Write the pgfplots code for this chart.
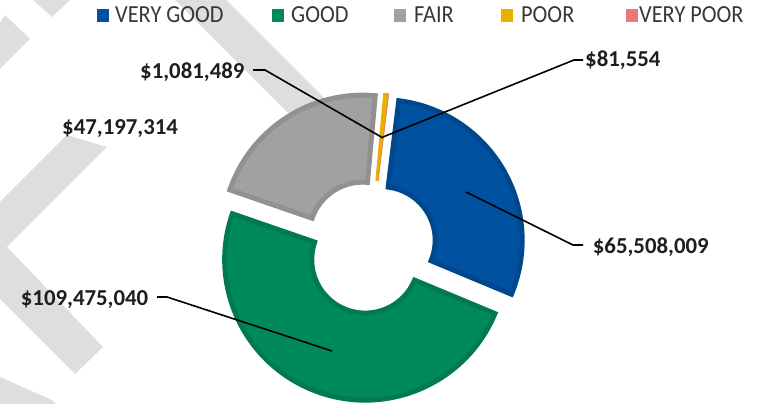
\documentclass[border=0pt]{standalone}
\usepackage{pgfplots}
\pgfplotsset{compat=1.18}
\usepackage{graphicx}
\usepackage{fontspec}
\setmainfont{Carlito}

\definecolor{cVG}{RGB}{0,82,160}
\definecolor{cVGd}{RGB}{0,72,142}
\definecolor{cG}{RGB}{0,138,90}
\definecolor{cGd}{RGB}{0,122,78}
\definecolor{cF}{RGB}{161,161,161}
\definecolor{cFd}{RGB}{145,145,145}
\definecolor{cP}{RGB}{232,176,0}
\definecolor{cVP}{RGB}{235,120,120}
\definecolor{stripe}{RGB}{222,222,222}
\definecolor{lab}{RGB}{30,30,30}
\definecolor{leg}{RGB}{55,55,55}

% values (millions of dollars)
\def\vVG{65.508009}
\def\vG{109.475040}
\def\vF{47.197314}
\def\vP{1.081489}
\def\vVP{0.081554}

\pgfmathsetmacro\tot{\vVG+\vG+\vF+\vP+\vVP}
\pgfmathsetmacro\aA{83}
\pgfmathsetmacro\aB{\aA-\vVG/\tot*360}
\pgfmathsetmacro\aC{\aB-\vG/\tot*360}
\pgfmathsetmacro\aD{\aC-\vF/\tot*360}
\pgfmathsetmacro\aE{\aD-\vP/\tot*360}
\pgfmathsetmacro\aF{\aE-\vVP/\tot*360}

\def\ex{13.5}
\pgfmathsetmacro\mA{(\aA+\aB)/2}\pgfmathsetmacro\xA{370+\ex*cos(\mA)}\pgfmathsetmacro\yA{157+\ex*sin(\mA)}
\pgfmathsetmacro\mB{(\aB+\aC)/2}\pgfmathsetmacro\xB{370+\ex*cos(\mB)}\pgfmathsetmacro\yB{157+\ex*sin(\mB)}
\pgfmathsetmacro\mC{(\aC+\aD)/2}\pgfmathsetmacro\xC{370+\ex*cos(\mC)}\pgfmathsetmacro\yC{157+\ex*sin(\mC)}
\pgfmathsetmacro\mD{(\aD+\aE)/2}\pgfmathsetmacro\xD{370+\ex*cos(\mD)}\pgfmathsetmacro\yD{157+\ex*sin(\mD)}
\pgfmathsetmacro\mE{(\aE+\aF)/2}\pgfmathsetmacro\xE{370+\ex*cos(\mE)}\pgfmathsetmacro\yE{157+\ex*sin(\mE)}

\def\Ro{140.5bp}
\def\Ri{53.5bp}
\newcommand\slice[7]{%
  \filldraw[fill=#5, draw=#6, line width=#7, line join=miter]
   ([shift={(#1:\Ro)}]axis cs:#3,#4) arc[start angle=#1, end angle=#2, radius=\Ro]
   -- ([shift={(#2:\Ri)}]axis cs:#3,#4) arc[start angle=#2, end angle=#1, radius=\Ri] -- cycle;}

\newcommand\labfont{\fontsize{22.8bp}{26bp}\selectfont\bfseries}
\newcommand\legfont{\fontsize{22.3bp}{26bp}\selectfont}
\newcommand\legtxt[1]{\scalebox{1}[1.1]{#1}}

\begin{document}
\begin{tikzpicture}
\begin{axis}[
  name=ax,
  width=761bp, height=404bp, scale only axis,
  xmin=0, xmax=761, ymin=0, ymax=404,
  hide axis, clip=false,
]
% background watermark stripes
\fill[stripe] (axis cs:33,404) -- (axis cs:70,404) -- (axis cs:52,387) -- cycle;
\fill[stripe] (axis cs:0,381) -- (axis cs:5,389) -- (axis cs:30,365) -- (axis cs:0,335) -- cycle;
\fill[stripe] (axis cs:0,202) -- (axis cs:67,269) -- (axis cs:107,257) -- (axis cs:7,157)
   -- (axis cs:103,57) -- (axis cs:75,30) -- (axis cs:0,105) -- cycle;
\fill[stripe] (axis cs:0,27) -- (axis cs:52,4) -- (axis cs:56,0) -- (axis cs:0,0) -- cycle;
\fill[stripe] (axis cs:175,404) -- (axis cs:226,404) -- (axis cs:350,280) -- (axis cs:330,249) -- cycle;

% doughnut slices
\slice{\aA}{\aB}{\xA}{\yA}{cVG}{cVGd}{5bp}
\slice{\aB}{\aC}{\xB}{\yB}{cG}{cGd}{5bp}
\slice{\aC}{\aD}{\xC}{\yC}{cF}{cFd}{5bp}
\slice{\aD}{\aE}{\xD}{\yD}{cP}{cP}{1.5bp}
\slice{\aE}{\aF}{\xE}{\yE}{cVP}{cVP}{0.3bp}

% leader lines
\draw[black, line width=1.6bp] (axis cs:583,344) -- (axis cs:574,344) -- (axis cs:383,267);
\draw[black, line width=1.6bp] (axis cs:253,334) -- (axis cs:265,334) -- (axis cs:383,266);
\draw[black, line width=1.6bp] (axis cs:466,212) -- (axis cs:573,159) -- (axis cs:583,159);
\draw[black, line width=1.6bp] (axis cs:157,107) -- (axis cs:167,107) -- (axis cs:332,53);

% data labels
\node[anchor=base west, inner sep=0, text=lab, font=\labfont] at (axis cs:585,337) {\$81,554};
\node[anchor=base west, inner sep=0, text=lab, font=\labfont] at (axis cs:140,325.7) {\$1,081,489};
\node[anchor=base west, inner sep=0, text=lab, font=\labfont] at (axis cs:62,269.5) {\$47,197,314};
\node[anchor=base west, inner sep=0, text=lab, font=\labfont] at (axis cs:592.7,150.7) {\$65,508,009};
\node[anchor=base west, inner sep=0, text=lab, font=\labfont] at (axis cs:20.7,98) {\$109,475,040};

% legend
\fill[cVG] (axis cs:97,382) rectangle (axis cs:109,394.5);
\node[anchor=base west, inner sep=0, text=leg, font=\legfont] at (axis cs:115,381.3) {\legtxt{VERY GOOD}};
\fill[cG] (axis cs:272,382) rectangle (axis cs:284,394.5);
\node[anchor=base west, inner sep=0, text=leg, font=\legfont] at (axis cs:291,381.3) {\legtxt{GOOD}};
\fill[cF] (axis cs:394,382) rectangle (axis cs:406,394.5);
\node[anchor=base west, inner sep=0, text=leg, font=\legfont] at (axis cs:414,381.3) {\legtxt{FAIR}};
\fill[cP] (axis cs:501,382) rectangle (axis cs:513,394.5);
\node[anchor=base west, inner sep=0, text=leg, font=\legfont] at (axis cs:521,381.3) {\legtxt{POOR}};
\fill[cVP] (axis cs:626,382) rectangle (axis cs:638,394.5);
\node[anchor=base west, inner sep=0, text=leg, font=\legfont] at (axis cs:639,381.3) {\legtxt{VERY POOR}};
\end{axis}
\pgfresetboundingbox
\path[use as bounding box] (ax.south west) rectangle (ax.north east);
\end{tikzpicture}
\end{document}
